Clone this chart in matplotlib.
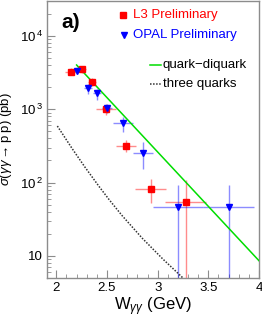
import matplotlib
matplotlib.use("Agg")
import matplotlib.pyplot as plt
from matplotlib.ticker import FixedLocator, LogLocator, MultipleLocator, NullFormatter

plt.rcParams["font.family"] = ["Liberation Sans", "DejaVu Sans"]
plt.rcParams["mathtext.fontset"] = "custom"
plt.rcParams["mathtext.rm"] = "Liberation Sans"
plt.rcParams["mathtext.it"] = "Liberation Sans:italic"
plt.rcParams["mathtext.sf"] = "Liberation Sans"

# L3 preliminary
l3_w = [2.14, 2.25, 2.355, 2.49, 2.69, 2.93, 3.275]
l3_sig = [3250, 3500, 2380, 1000, 315, 81, 55]
l3_wlo = [0.05, 0.04, 0.04, 0.10, 0.10, 0.15, 0.20]
l3_whi = [0.05, 0.04, 0.04, 0.10, 0.10, 0.15, 0.20]
l3_lo = [2900, 3150, 2080, 820, 261, 52, 0.1]
l3_hi = [3650, 3850, 2700, 1180, 376, 112, 110]

# OPAL preliminary
op_w = [2.20, 2.31, 2.40, 2.50, 2.655, 2.855, 3.20, 3.70]
op_sig = [3350, 1950, 1650, 1045, 645, 256, 46, 47]
op_wlo = [0.03, 0.04, 0.04, 0.05, 0.10, 0.10, 0.25, 0.25]
op_whi = [0.03, 0.04, 0.04, 0.05, 0.10, 0.10, 0.25, 0.25]
op_lo = [3050, 1630, 1320, 875, 490, 155, 0.1, 0.1]
op_hi = [3700, 2230, 1900, 1190, 775, 356, 92, 93]

# model curves
qd_w = [2.2, 4.0]
qd_sig = [4000, 8.6]
tq_w = [2.01, 2.16, 2.28, 2.42, 2.52, 2.65, 2.85, 3.05, 3.25]
tq_sig = [589, 285, 164, 89, 58.7, 35.3, 17.3, 9.1, 5.0]

y_ticks = [10, 100, 1000, 10000]
y_labels = ["10", "10$^{\\,2}$", "10$^{\\,3}$", "10$^{\\,4}$"]
x_ticks = [2, 2.5, 3, 3.5, 4]
x_labels = ["2", "2.5", "3", "3.5", "4"]

RED = "#ff0000"
BLUE = "#0000ff"
GRAY = "#8c8c8c"

fig = plt.figure(figsize=(2.62, 3.19), dpi=100)
ax = fig.add_axes([47 / 262, 41 / 319, 212 / 262, 277 / 319])


def draw(w, s, wlo, whi, lo, hi, col, mk, ms):
    yerr = [[v - l for v, l in zip(s, lo)], [h - v for v, h in zip(s, hi)]]
    ax.errorbar(w, s, xerr=[wlo, whi], yerr=yerr, fmt="none", ecolor=col,
                alpha=0.45, elinewidth=1.0, capsize=0)
    ax.plot(w, s, mk, color=col, ms=ms, zorder=5)


draw(l3_w, l3_sig, l3_wlo, l3_whi, l3_lo, l3_hi, RED, "s", 5)
draw(op_w, op_sig, op_wlo, op_whi, op_lo, op_hi, BLUE, "v", 5)

ax.plot(qd_w, qd_sig, color="#00dd00", lw=1.1, zorder=4)
ax.plot(tq_w, tq_sig, color="#333333", lw=1.1, ls=(0, (1, 1)), zorder=3)

ax.set_yscale("log")
ax.set_xlim(1.908, 4.0)
ax.set_ylim(5.0, 29800)

ax.yaxis.set_major_locator(FixedLocator(y_ticks))
ax.set_yticklabels(y_labels)
ax.yaxis.set_minor_locator(LogLocator(base=10, subs=range(2, 10)))
ax.yaxis.set_minor_formatter(NullFormatter())
ax.xaxis.set_major_locator(FixedLocator(x_ticks))
ax.set_xticklabels(x_labels)
ax.xaxis.set_minor_locator(MultipleLocator(0.1))

for sp in ax.spines.values():
    sp.set_color(GRAY)
    sp.set_linewidth(1.0)
ax.tick_params(which="both", direction="in", color=GRAY, labelsize=9.5, top=False, right=False)
ax.tick_params(which="major", length=6, pad=3)
ax.tick_params(which="minor", length=3)

ax.set_xlabel("W$_{\\gamma\\gamma}$ (GeV)", fontsize=12, labelpad=1)
ax.set_ylabel("$\\sigma(\\gamma\\gamma\\rightarrow \\mathrm{p}\\;\\bar{\\mathrm{p}})$ (pb)", fontsize=9.5)
ax.yaxis.set_label_coords(-0.15, 0.5)

ax.text(0.07, 0.955, "a)", transform=ax.transAxes, fontsize=15, fontweight="bold", va="top")

# legend, drawn by hand like the original
ax.plot([0.359], [0.948], "s", color=RED, ms=5, transform=ax.transAxes)
ax.text(0.405, 0.948, "L3 Preliminary", color=RED, fontsize=9.5, va="center", transform=ax.transAxes)
ax.plot([0.364], [0.879], "v", color=BLUE, ms=5, transform=ax.transAxes)
ax.text(0.405, 0.879, "OPAL Preliminary", color=BLUE, fontsize=9.5, va="center", transform=ax.transAxes)
ax.plot([0.486, 0.538], [0.769, 0.769], color="#00dd00", lw=1.1, transform=ax.transAxes)
ax.text(0.545, 0.769, "quark\u2212diquark", fontsize=9.5, va="center", transform=ax.transAxes)
ax.plot([0.486, 0.538], [0.700, 0.700], color="#333333", lw=1.1, ls=(0, (1, 1)), transform=ax.transAxes)
ax.text(0.545, 0.700, "three quarks", fontsize=9.5, va="center", transform=ax.transAxes)

fig.savefig("out.png", dpi=100)
